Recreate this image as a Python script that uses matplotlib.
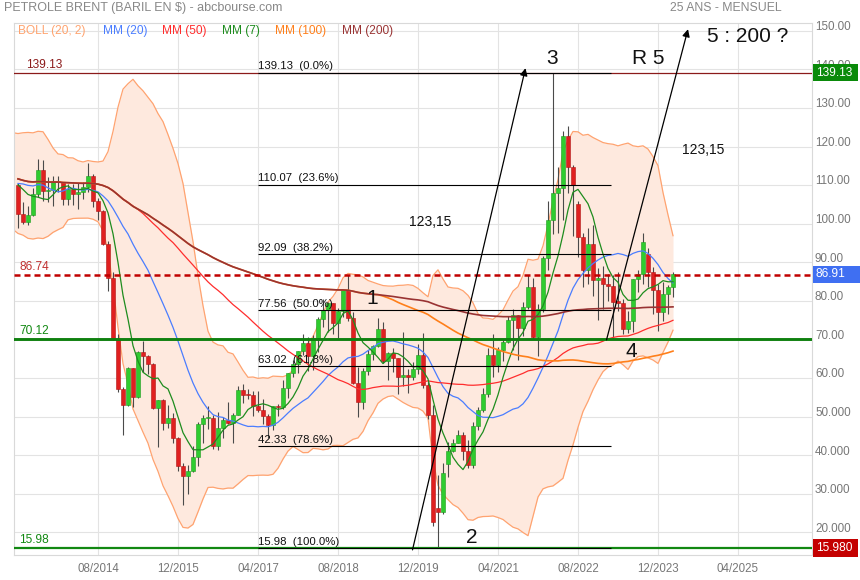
import numpy as np
import pandas as pd
import matplotlib
matplotlib.use("Agg")
import matplotlib.pyplot as plt
import matplotlib.transforms as mtransforms
from matplotlib.patches import Rectangle

plt.rcParams['font.family'] = ['Liberation Sans', 'DejaVu Sans']

W, H = 860, 580

# ---------------- data ----------------
# monthly closes before the displayed window (Jan 2011 - Mar 2013), used by the indicators
pre_closes = [101.0, 111.8, 117.4, 125.9, 116.7, 112.5, 116.7, 114.9, 102.8, 109.6, 110.5, 107.4,
              111.0, 122.7, 122.9, 119.5, 101.9, 97.8, 104.9, 114.6, 112.4, 108.7, 111.2, 111.1,
              115.6, 111.4, 110.0]

start_month = '2013-04'   # first displayed candle

opens = [110.0, 102.4, 100.4, 102.2, 107.7, 114.0, 108.4, 108.8, 110.9,
         110.8, 106.4, 109.1, 107.8, 108.1, 109.4, 112.4, 106.0, 103.2, 94.7, 85.9, 70.2,
         57.3, 53.0, 62.6, 55.1, 66.8, 65.6, 63.6, 52.2, 54.2, 48.4, 49.6, 44.6,
         37.3, 34.7, 36.0, 39.6, 48.1, 49.7, 49.7, 42.5, 47.0, 49.1, 48.3, 50.5,
         56.8, 55.7, 55.6, 52.8, 51.7, 50.3, 47.9, 52.7, 52.4, 57.5, 61.4, 63.6,
         66.9, 69.1, 65.8, 70.3, 75.2, 77.6, 79.4, 74.3, 77.4, 82.7, 75.5, 58.7,
         53.8, 61.9, 66.3, 68.4, 72.8, 64.5, 66.6, 65.2, 60.4, 60.8, 60.2, 62.4,
         66.0, 58.2, 50.5, 26.4, 25.3, 37.8, 41.2, 43.3, 45.3, 41.0, 37.5, 47.6,
         51.8, 55.9, 66.1, 63.5, 67.3, 69.3, 75.1, 76.3, 73.0, 78.5, 83.7, 70.6,
         77.8, 91.2, 101.0, 107.9, 109.3, 122.8, 114.8, 105.0, 96.5, 88.0, 94.8, 85.4,
         85.9, 84.5, 83.9, 79.8, 79.5, 72.7, 74.9, 85.6, 86.9, 92.2, 87.4, 82.8,
         77.0, 81.7, 83.6]
highs = [110.6, 105.6, 104.5, 109.3, 116.8, 116.5, 112.0, 112.3, 112.3,
         110.8, 110.3, 110.3, 110.5, 110.8, 115.7, 112.8, 106.7, 103.5, 95.6, 87.4, 71.3,
         57.7, 63.0, 62.6, 67.1, 69.6, 66.1, 64.0, 54.3, 54.5, 53.1, 50.9, 44.8,
         38.0, 37.5, 42.5, 48.5, 50.5, 52.9, 50.5, 51.2, 49.9, 53.7, 50.9, 57.9,
         58.4, 57.2, 56.7, 56.7, 54.7, 50.6, 52.9, 53.3, 59.5, 61.4, 64.7, 67.1,
         71.3, 70.7, 71.1, 75.9, 80.5, 79.8, 79.5, 78.2, 82.9, 86.7, 77.0, 62.8,
         62.6, 67.4, 68.7, 75.6, 74.5, 66.8, 67.8, 65.3, 71.9, 62.3, 64.3, 68.9,
         71.8, 59.6, 53.0, 34.9, 38.0, 43.4, 44.3, 46.5, 46.0, 43.9, 48.5, 52.5,
         57.4, 67.7, 71.4, 68.1, 70.0, 76.1, 77.8, 76.4, 79.6, 86.7, 86.0, 79.2,
         91.7, 105.8, 139.13, 114.8, 124.0, 125.2, 115.1, 106.0, 97.6, 98.9, 99.6, 88.6,
         89.1, 87.0, 86.8, 87.5, 80.4, 77.3, 85.6, 88.1, 97.7, 93.8, 88.7, 84.5,
         84.8, 84.0, 87.5]
lows = [99.0, 100.0, 99.6, 101.9, 106.8, 106.0, 105.6, 104.6, 108.1,
        104.8, 104.9, 104.8, 103.7, 106.5, 108.3, 104.2, 100.9, 94.5, 82.6, 69.8, 56.5,
        45.2, 52.7, 52.5, 54.9, 61.6, 61.1, 51.9, 42.2, 46.6, 47.1, 43.1, 36.0,
        27.1, 30.0, 35.8, 37.2, 43.3, 46.7, 41.6, 41.5, 44.4, 48.1, 43.1, 50.5,
        53.6, 54.5, 50.3, 51.1, 48.2, 44.4, 46.6, 50.2, 52.1, 54.8, 60.2, 61.2,
        66.1, 61.8, 62.1, 66.8, 73.2, 71.9, 71.3, 70.3, 75.8, 74.8, 58.4, 50.0,
        52.1, 60.8, 64.6, 68.0, 63.9, 59.5, 61.5, 55.9, 57.9, 56.2, 59.5, 61.0,
        57.4, 49.5, 21.6, 15.98, 24.8, 34.5, 40.9, 43.2, 38.8, 36.6, 36.6, 46.6,
        51.3, 55.2, 60.3, 61.6, 64.5, 69.0, 67.4, 64.6, 70.9, 77.8, 70.2, 65.7,
        77.1, 88.1, 97.4, 97.6, 101.0, 108.0, 96.9, 91.5, 83.7, 84.5, 81.3, 75.1,
        77.8, 80.1, 70.1, 77.3, 71.4, 71.6, 71.9, 82.2, 84.4, 83.5, 76.6, 72.3,
        74.8, 76.6, 81.1]
closes = [102.4, 100.4, 102.2, 107.7, 114.0, 108.4, 108.8, 110.9, 110.8,
          106.4, 109.1, 107.8, 108.1, 109.4, 112.4, 106.0, 103.2, 94.7, 85.9, 70.2, 57.3,
          53.0, 62.6, 55.1, 66.8, 65.6, 63.6, 52.2, 54.2, 48.4, 49.6, 44.6, 37.3,
          34.7, 36.0, 39.6, 48.1, 49.7, 49.7, 42.5, 47.0, 49.1, 48.3, 50.5, 56.8,
          55.7, 55.6, 52.8, 51.7, 50.3, 47.9, 52.7, 52.4, 57.5, 61.4, 63.6, 66.9,
          69.1, 65.8, 70.3, 75.2, 77.6, 79.4, 74.3, 77.4, 82.7, 75.5, 58.7, 53.8,
          61.9, 66.3, 68.4, 72.8, 64.5, 66.6, 65.2, 60.4, 60.8, 60.2, 62.4, 66.0,
          58.2, 50.5, 22.7, 25.3, 35.3, 41.2, 43.3, 45.3, 41.0, 37.5, 47.6, 51.8,
          55.9, 66.1, 63.5, 67.3, 69.3, 75.1, 76.3, 73.0, 78.5, 83.7, 70.6, 77.8,
          91.2, 101.0, 107.9, 109.3, 122.8, 114.8, 110.0, 96.5, 88.0, 94.8, 85.4, 85.9,
          84.5, 83.9, 79.8, 79.5, 72.7, 74.9, 85.6, 86.9, 95.3, 87.4, 82.8, 77.0,
          81.7, 83.6, 86.91]

x_tick_labels = ['08/2014', '12/2015', '04/2017', '08/2018', '12/2019',
                 '04/2021', '08/2022', '12/2023', '04/2025']
y_tick_values = [20, 30, 40, 50, 60, 70, 80, 90, 100, 110, 120, 130, 140, 150]
y_tick_labels = ['20.000', '30.000', '40.000', '50.000', '60.00', '70.00', '80.00',
                 '90.00', '100.00', '110.00', '120.00', '130.00', '140.00', '150.00']

fib_top = 139.13
fib_bottom = 15.98
fib_ratios = [0.0, 0.236, 0.382, 0.5, 0.618, 0.786, 1.0]
fib_start = '2017-04'
fib_end_offset = 118.7          # month offset where the fibonacci lines stop

level_high = 139.13
level_dashed = 86.74
level_support = 70.12
level_low = 15.98
last_price = 86.91

legend_names = ['BOLL (20, 2)', 'MM (20)', 'MM (50)', 'MM (7)', 'MM (100)', 'MM (200)']
legend_colors = ['#ffa36e', '#4a7dff', '#ff2d2d', '#1e8c1e', '#ff7f1a', '#993333']

# ---------------- indicators ----------------
all_close = pd.Series(pre_closes + closes, dtype=float)
n_pre = len(pre_closes)
x_all = np.arange(len(all_close)) - n_pre


def mm(w):
    return all_close.rolling(w, min_periods=1).mean().values


boll_mid = mm(20)
boll_sd = all_close.rolling(20, min_periods=1).std(ddof=0).values
boll_up = boll_mid + 2 * boll_sd
boll_lo = boll_mid - 2 * boll_sd

x = np.arange(len(closes))
o = np.array(opens); h = np.array(highs); l = np.array(lows); c = np.array(closes)

p0 = pd.Period(start_month, 'M')
tick_pos = [(pd.Period(pd.to_datetime(t, format='%m/%Y'), 'M') - p0).n for t in x_tick_labels]
fib_x0 = (pd.Period(fib_start, 'M') - p0).n

# ---------------- figure ----------------
fig = plt.figure(figsize=(W / 100, H / 100), dpi=100)
ax = fig.add_axes([14 / W, 25 / H, 798 / W, 532 / H])
ax.set_xlim(-0.8, 158.8)
ax.set_ylim(14.17, 152.0)

ax.set_xticks(tick_pos)
ax.set_xticklabels(x_tick_labels)
ax.set_yticks(y_tick_values)
ax.tick_params(axis='x', length=0, pad=5.5, colors='#777777', labelsize=8.3)
ax.tick_params(axis='y', length=0, labelleft=False)
ax.grid(True, color='#e3e3e3', lw=0.8, zorder=0)
ax.set_axisbelow(True)
for s in ax.spines.values():
    s.set_color('#d9d9d9')
    s.set_linewidth(0.8)

yblend = mtransforms.blended_transform_factory(ax.transAxes, ax.transData)

# Bollinger band
mb = x_all >= -1
ax.fill_between(x_all[mb], boll_lo[mb], boll_up[mb], color='#fee9de', lw=0, zorder=1)
ax.plot(x_all[mb], boll_up[mb], color='#ffa370', lw=0.9, zorder=2)
ax.plot(x_all[mb], boll_lo[mb], color='#ffa370', lw=0.9, zorder=2)

# candles
up = c >= o
ax.vlines(x, l, h, color='#4a4a4a', lw=0.8, zorder=3)
body_lo = np.minimum(o, c)
body_h = np.maximum(np.abs(c - o), 0.35)
ax.bar(x[up], body_h[up], bottom=body_lo[up], width=0.72, color='#2fcc2f',
       edgecolor='#1f9a1f', linewidth=0.4, zorder=3.5)
ax.bar(x[~up], body_h[~up], bottom=body_lo[~up], width=0.72, color='#e02020',
       edgecolor='#b01515', linewidth=0.4, zorder=3.5)

# moving averages
md = x_all >= 0
ax.plot(x_all[md], mm(20)[md], color=legend_colors[1], lw=0.9, zorder=4)
ax.plot(x_all[md], mm(50)[md], color=legend_colors[2], lw=0.9, zorder=4)
ax.plot(x_all[md], mm(7)[md], color=legend_colors[3], lw=0.9, zorder=4)
ax.plot(x_all[md], mm(100)[md], color=legend_colors[4], lw=1.2, zorder=4)
ax.plot(x_all[md], mm(200)[md], color=legend_colors[5], lw=1.2, zorder=4)

# horizontal levels
ax.axhline(level_high, color='#8b1a1a', lw=0.9, zorder=5)
ax.axhline(level_dashed, color='#c00000', lw=1.8, dashes=(2.4, 1.6), zorder=5)
ax.axhline(level_support, color='#0f800f', lw=2.1, zorder=5)
ax.axhline(level_low, color='#118811', lw=1.6, zorder=5)

lab_kw = dict(fontsize=8.6, va='bottom', ha='left', zorder=6)
ax.annotate(f'{level_high:.2f}', (0, level_high), xycoords=yblend, xytext=(12, 1.5),
            textcoords='offset pixels', color='#8b1a1a', **lab_kw)
ax.annotate(f'{level_dashed:.2f}', (0, level_dashed), xycoords=yblend, xytext=(5, 2),
            textcoords='offset pixels', color='#c03030', **lab_kw)
ax.annotate(f'{level_support:.2f}', (0, level_support), xycoords=yblend, xytext=(5, 2),
            textcoords='offset pixels', color='#118811', **lab_kw)
ax.annotate(f'{level_low:.2f}', (0, level_low), xycoords=yblend, xytext=(5, 2),
            textcoords='offset pixels', color='#118811', **lab_kw)

# fibonacci retracement
span = fib_top - fib_bottom
for r in fib_ratios:
    v = fib_top - r * span
    ax.hlines(v, fib_x0, fib_end_offset, color='black', lw=0.8, zorder=5)
    ax.annotate(f'{v:.2f}  ({r * 100:.1f}%)', (fib_x0, v), xytext=(0, 1.5),
                textcoords='offset pixels', fontsize=8.2, va='bottom', ha='left',
                color='#111111', zorder=6)

# trend lines with arrows
arrow_kw = dict(arrowstyle='-|>', color='black', lw=0.9, mutation_scale=11,
                shrinkA=0, shrinkB=0)
ax.annotate('', xy=(101.5, 140.3), xytext=(78.9, 15.5), arrowprops=arrow_kw, zorder=6)
ax.annotate('', xy=(134.0, 150.4), xytext=(117.7, 69.9), arrowprops=arrow_kw, zorder=6)

# wave annotations
big = dict(fontsize=15, ha='center', va='center', color='#111111', zorder=7)
ax.text(70.8, 80.75, '1', **big)
ax.text(90.8, 18.8, '2', **big)
ax.text(106.8, 142.9, '3', **big)
ax.text(122.6, 66.8, '4', **big)
ax.text(126.0, 142.9, 'R 5', **big)
ax.text(146.0, 148.6, '5 : 200 ?', **big)
ax.text(82.4, 100.4, '123,15', fontsize=10, ha='center', va='center', color='#111111', zorder=7)
ax.text(137.0, 119.0, '123,15', fontsize=10, ha='center', va='center', color='#111111', zorder=7)

# right axis labels
for v, s in zip(y_tick_values, y_tick_labels):
    ax.text(1 + 3 / 798, v + 0.95, s, transform=yblend, fontsize=8.4, color='#777777',
            ha='left', va='center', clip_on=False, zorder=2)

# price tags on right axis
def tag(v, s, col, wpx):
    ax.add_patch(Rectangle((1 + 1 / 798, v - 2.25), wpx / 798, 4.5, transform=yblend,
                           facecolor=col, edgecolor='none', clip_on=False, zorder=8))
    ax.text(1 + 4 / 798, v, s, transform=yblend, fontsize=8.6, color='white',
            ha='left', va='center', clip_on=False, zorder=9)

tag(level_high, f'{level_high:.2f}', '#0a8a0a', 45)
tag(last_price, f'{last_price:.2f}', '#3f6ff2', 48)
tag(level_low, f'{level_low:.3f}', '#c40000', 45)

# header
fig.text(4 / W, 1 - 8 / H, 'PETROLE BRENT (BARIL EN $) - abcbourse.com', fontsize=9,
         color='#888888', ha='left', va='center')
fig.text(782 / W, 1 - 8 / H, '25 ANS - MENSUEL', fontsize=8.8, color='#888888',
         ha='right', va='center')
leg_x = [18, 103, 162, 222, 275, 342]
for px, name, col in zip(leg_x, legend_names, legend_colors):
    fig.text(px / W, 1 - 31 / H, name, fontsize=8.6, color=col, ha='left', va='center')

fig.savefig('out.png', dpi=100)
